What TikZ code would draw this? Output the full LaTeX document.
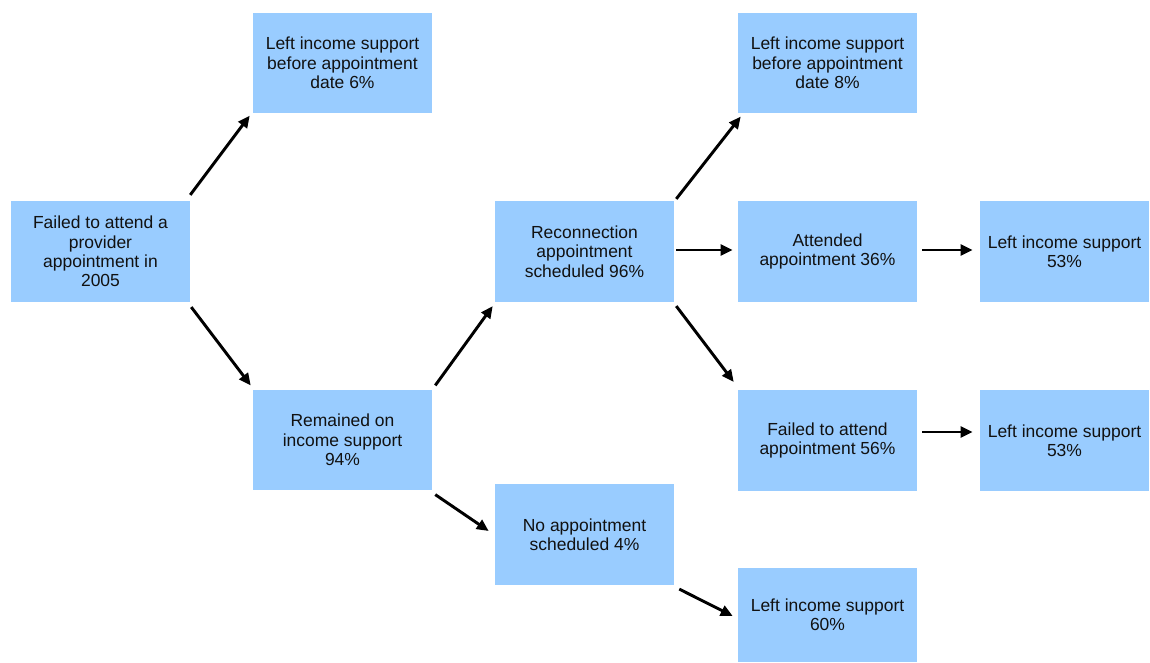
\documentclass[tikz,border=0pt]{standalone}
\usepackage{fontspec}
\setmainfont{Liberation Sans}
\usetikzlibrary{arrows.meta,calc}
\definecolor{boxblue}{HTML}{99CCFF}
\definecolor{ink}{HTML}{111111}
\begin{document}
\begin{tikzpicture}[x=0.75pt,y=-0.75pt,
  box/.style={fill=boxblue,draw=none,inner sep=0pt,align=center,text=ink,
    minimum width=134.25pt,minimum height=75.5pt,
    font=\fontsize{13.1pt}{14.5pt}\selectfont},
  narrowbox/.style={box,minimum width=126.75pt},
  arr/.style={line width=2.2pt,draw=black,-{Triangle[length=9pt,width=8pt]}}]
\useasboundingbox (0,0) rectangle (1150,663);

% boxes
\node[box] (A) at (100.5,251.5) {Failed to attend a\\provider\\appointment in\\2005};
\node[box] (B) at (342.5,63) {Left income support\\before appointment\\date 6\%};
\node[box] (C) at (342.5,440) {Remained on\\income support\\94\%};
\node[box] (D) at (584.5,251.5) {Reconnection\\appointment\\scheduled 96\%};
\node[box] (E) at (584.5,534.5) {No appointment\\scheduled 4\%};
\node[box] (F) at (827.5,63) {Left income support\\before appointment\\date 8\%};
\node[box] (G) at (827.5,251.5) {Attended\\appointment 36\%};
\node[box] (H) at (827.5,440.5) {Failed to attend\\appointment 56\%};
\node[narrowbox] (I) at (1064.5,251.5) {Left income support\\53\%};
\node[narrowbox] (J) at (1064.5,440.5) {Left income support\\53\%};
\node[box,minimum height=70.5pt] (K) at (827.5,615) {Left income support\\60\%};

% connectors
\draw[arr] ($(A.north east)+(0,-6)$) -- ($(B.south west)+(-3,2)$);
\draw[arr] ($(A.south east)+(1,5)$) -- ($(C.north west)+(-2,-4)$);
\draw[arr] ($(C.north east)+(3,-4)$) -- ($(D.south west)+(-2,4)$);
\draw[arr] ($(C.south east)+(3,4)$) -- ($(E.west)+(-6,-3.5)$);
\draw[arr] ($(D.north east)+(2,-2)$) -- ($(F.south west)+(3,3)$);
\draw[arr] ($(D.east)+(2,-1.5)$) -- ($(G.west)+(-5,-1.5)$);
\draw[arr] ($(D.south east)+(2,4)$) -- ($(H.north west)+(-4,-8)$);
\draw[arr] ($(G.east)+(5,-1.5)$) -- ($(I.west)+(-7,-1.5)$);
\draw[arr] ($(H.east)+(5,-8.5)$) -- ($(J.west)+(-7,-8.5)$);
\draw[arr] ($(E.south east)+(5,4)$) -- ($(K.west)+(-5,1)$);
\end{tikzpicture}
\end{document}
